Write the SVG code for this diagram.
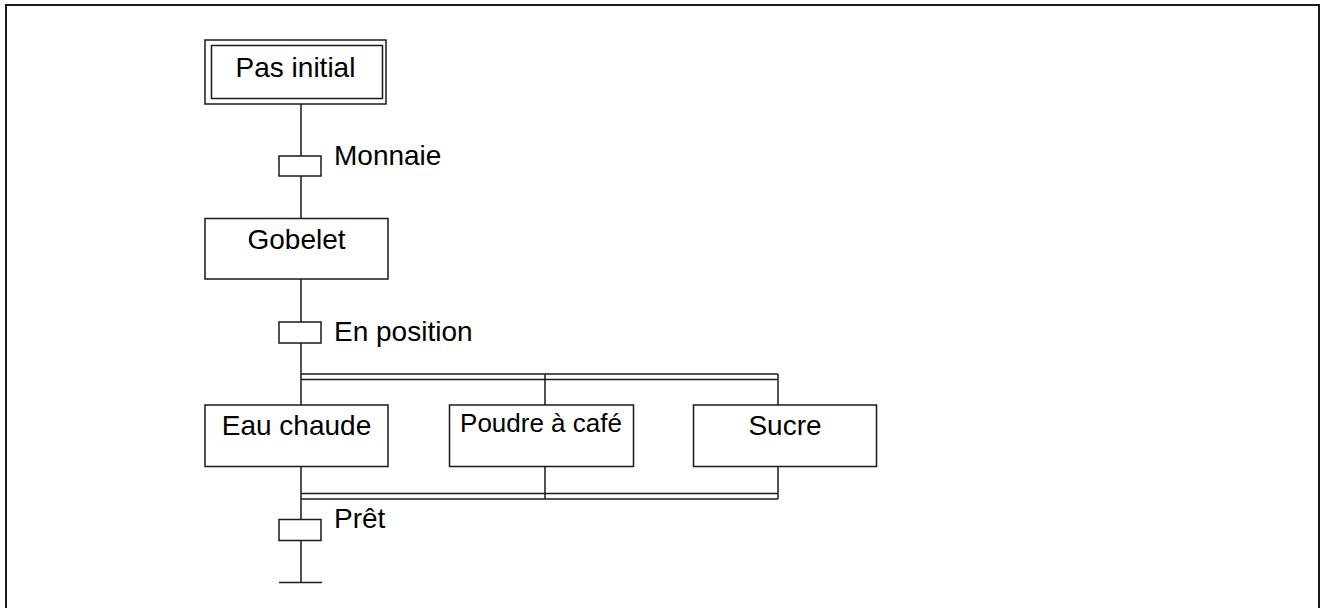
<svg xmlns="http://www.w3.org/2000/svg" width="1326" height="608" viewBox="0 0 1326 608">
  <style>
    .box { fill: #fff; stroke: #1a1a1a; stroke-width: 1.5; }
    .ln { fill: none; stroke: #1a1a1a; stroke-width: 1.5; }
    .lbl { font-family: "Liberation Sans", Arial, sans-serif; font-size: 28px; fill: #000; }
    .mid { text-anchor: middle; }
  </style>
  <rect width="1326" height="608" fill="#fff"/>
  <!-- frame -->
  <rect x="6" y="5" width="1313" height="640" fill="none" stroke="#1a1a1a" stroke-width="2"/>

  <!-- connectors: links, transitions, parallel bars -->
  <g id="connectors">
    <line class="ln" x1="301" y1="104" x2="301" y2="218"/>
    <rect id="t-monnaie" class="box" x="279" y="156" width="42" height="20"/>
    <line class="ln" x1="301" y1="279" x2="301" y2="405"/>
    <rect id="t-position" class="box" x="279" y="322" width="42" height="21"/>
    <!-- divergence AND -->
    <line class="ln" x1="301" y1="374" x2="778" y2="374"/>
    <line class="ln" x1="301" y1="379.5" x2="778" y2="379.5"/>
    <line class="ln" x1="545" y1="374" x2="545" y2="405"/>
    <line class="ln" x1="778" y1="374" x2="778" y2="405"/>
    <!-- convergence AND -->
    <line class="ln" x1="301" y1="467" x2="301" y2="582"/>
    <line class="ln" x1="545" y1="467" x2="545" y2="499"/>
    <line class="ln" x1="778" y1="467" x2="778" y2="499"/>
    <line class="ln" x1="301" y1="493.5" x2="778" y2="493.5"/>
    <line class="ln" x1="301" y1="499" x2="778" y2="499"/>
    <rect id="t-pret" class="box" x="279" y="519.5" width="42" height="21"/>
    <line class="ln" x1="279" y1="582.5" x2="322" y2="582.5"/>
  </g>

  <!-- transition conditions -->
  <text class="lbl" x="334" y="165">Monnaie</text>
  <text class="lbl" x="334" y="341">En position</text>
  <text class="lbl" x="334" y="528">Prêt</text>

  <g id="step-initial">
    <rect class="box" x="205" y="40" width="181" height="64"/>
    <rect class="box" x="211.5" y="45.5" width="171" height="53"/>
    <text class="lbl mid" x="295.5" y="77">Pas initial</text>
  </g>

  <g id="step-gobelet">
    <rect class="box" x="205" y="218.5" width="183" height="60.5"/>
    <text class="lbl mid" x="296.5" y="249">Gobelet</text>
  </g>

  <g id="step-eau">
    <rect class="box" x="205" y="405" width="183" height="61.5"/>
    <text class="lbl mid" x="296.5" y="434.5">Eau chaude</text>
  </g>

  <g id="step-poudre">
    <rect class="box" x="449.5" y="405" width="184" height="61.5"/>
    <text class="lbl mid" x="541" y="432" style="font-size:26px">Poudre à café</text>
  </g>

  <g id="step-sucre">
    <rect class="box" x="693.5" y="405" width="183" height="61.5"/>
    <text class="lbl mid" x="785" y="434.5">Sucre</text>
  </g>
</svg>
